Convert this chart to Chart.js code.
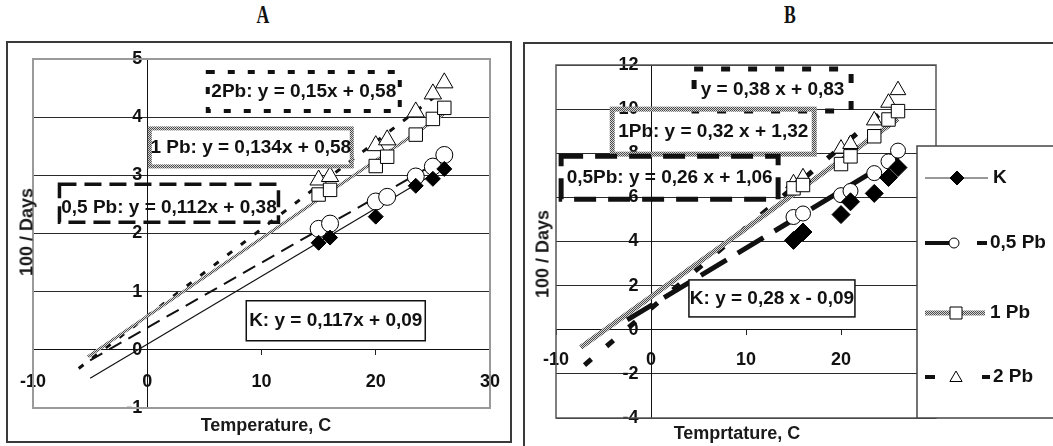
<!DOCTYPE html>
<html>
<head>
<meta charset="utf-8">
<script src="https://cdn.jsdelivr.net/npm/chart.js@4.4.1/dist/chart.umd.min.js"></script>
<style>
  body { margin: 0; width: 1053px; height: 446px; background: #fff; position: relative; overflow: hidden;
         font-family: "Liberation Sans", Arial, sans-serif; }
  .frame { position: absolute; border: 2px solid #3a3a3a; box-sizing: border-box; }
  #frameA { left: 6px; top: 41px; width: 506px; height: 402px; }
  #frameB { left: 523px; top: 42px; width: 560px; height: 430px; }
  canvas { position: absolute; top: 0; }
  #chartA { left: 0; }
  #chartB { left: 520px; }
  .panel { position: absolute; top: 2px; font-family: "Liberation Serif", serif; font-weight: bold;
           font-size: 26px; line-height: 26px; color: #111; transform: translateX(-50%) scaleX(0.68); }
  .axt { position: absolute; font-weight: bold; font-size: 18px; color: #1a1a1a; white-space: nowrap;
         transform: translate(-50%, -50%); }
  .axt.rot { transform: translate(-50%, -50%) rotate(-90deg); }
</style>
</head>
<body>
<div class="frame" id="frameA"></div>
<div class="frame" id="frameB"></div>
<div class="panel" style="left:263px">A</div>
<div class="panel" style="left:790px">B</div>
<canvas id="chartA" width="520" height="446"></canvas>
<canvas id="chartB" width="533" height="446"></canvas>
<div class="axt" style="left:266px; top:425px">Temperature, C</div>
<div class="axt rot" style="left:27px; top:232px">100 / Days</div>
<div class="axt" style="left:737px; top:433px">Temprtature, C</div>
<div class="axt rot" style="left:543px; top:254px">100 / Days</div>

<script>
// ---- data ----
const seriesNames = ['K', '0,5 Pb', '1 Pb', '2 Pb'];

// panel A
const tempA = [15, 16, 20, 21, 23.5, 25, 26];
const kTempA = [15, 16, 20, 23.5, 25, 26];
const kA = [1.84, 1.93, 2.29, 2.82, 2.94, 3.11];
const pb05A = [2.08, 2.17, 2.55, 2.63, 2.98, 3.15, 3.35];
const pb1A = [2.67, 2.75, 3.16, 3.32, 3.70, 3.97, 4.16];
const pb2A = [2.92, 2.98, 3.51, 3.61, 4.09, 4.40, 4.59];
// trend line ends
const kFitA = [{x: -5, y: -0.49}, {x: 26.3, y: 3.17}];
const pb05FitA = [{x: -5, y: -0.18}, {x: 26, y: 3.29}];
const pb1FitA = [{x: -5.2, y: -0.12}, {x: 26, y: 4.06}];
const pb2FitA = [{x: -6, y: -0.32}, {x: 25.5, y: 4.4}];
const eqA = ['2Pb: y = 0,15x + 0,58', '1 Pb: y = 0,134x + 0,58', '0,5 Pb: y = 0,112x + 0,38', 'K: y = 0,117x + 0,09'];

// panel B
const tempB = [15, 16, 20, 21, 23.5, 25, 26];
const kB = [4.05, 4.43, 5.22, 5.80, 6.18, 6.90, 7.35];
const pb05B = [5.11, 5.27, 6.10, 6.29, 7.10, 7.63, 8.12];
const pb1B = [6.41, 6.56, 7.51, 7.86, 8.77, 9.53, 9.91];
const pb2B = [6.64, 6.91, 8.21, 8.42, 9.49, 10.29, 10.86];
const pb05FitB = [{x: -2.5, y: 0.45}, {x: 26, y: 7.85}];
const pb1FitB = [{x: -7.4, y: -0.8}, {x: 26, y: 9.55}];
const pb2FitB = [{x: -7, y: -1.6}, {x: 25.5, y: 10.3}];
const eqB = ['y = 0,38 x + 0,83', '1Pb: y = 0,32 x + 1,32', '0,5Pb: y = 0,26 x + 1,06', 'K: y = 0,28 x - 0,09'];

const FONT = '"Liberation Sans", Arial, sans-serif';
Chart.defaults.font.family = FONT;
Chart.defaults.color = '#111';

// grey "textured" line like the old Excel pattern
function makeTexture() {
  const c = document.createElement('canvas');
  c.width = 2; c.height = 2;
  const g = c.getContext('2d');
  g.fillStyle = '#d8d8d8'; g.fillRect(0, 0, 2, 2);
  g.fillStyle = '#4a4a4a'; g.fillRect(0, 0, 1, 1); g.fillRect(1, 1, 1, 1);
  return c.getContext('2d').createPattern(c, 'repeat');
}
const texture = makeTexture();

function pts(xs, ys) {
  return ys.map((y, i) => ({x: xs[i], y}));
}

function markerSet(label, data, style, r, fill) {
  return {
    label, data, showLine: false,
    pointStyle: style, pointRadius: r, pointHoverRadius: r,
    pointBackgroundColor: fill, pointBorderColor: '#000', pointBorderWidth: 1
  };
}

function fitSet(data, color, width, dash) {
  return {
    data, showLine: true, pointRadius: 0, pointHoverRadius: 0,
    borderColor: color, borderWidth: width, borderDash: dash || [], fill: false
  };
}

function drawMarker(ctx, style, x, y, r, fill) {
  ctx.save();
  ctx.fillStyle = fill; ctx.strokeStyle = '#000'; ctx.lineWidth = 1; ctx.setLineDash([]);
  ctx.beginPath();
  if (style === 'rectRot') {
    ctx.moveTo(x, y - r); ctx.lineTo(x + r, y); ctx.lineTo(x, y + r); ctx.lineTo(x - r, y);
  } else if (style === 'circle') {
    ctx.arc(x, y, r, 0, Math.PI * 2);
  } else if (style === 'rect') {
    ctx.rect(x - r, y - r, 2 * r, 2 * r);
  } else {
    ctx.moveTo(x, y - r); ctx.lineTo(x + r * 0.87, y + r / 2); ctx.lineTo(x - r * 0.87, y + r / 2);
  }
  ctx.closePath(); ctx.fill(); ctx.stroke();
  ctx.restore();
}

// plot frame + equation boxes
function boxPlugin(id, frameColor, frameWidth, boxes) {
  return {
    id,
    beforeDatasetsDraw(chart) {
      const a = chart.chartArea, ctx = chart.ctx;
      ctx.save();
      ctx.strokeStyle = frameColor; ctx.lineWidth = frameWidth;
      ctx.strokeRect(a.left, a.top, a.right - a.left, a.bottom - a.top);
      ctx.restore();
    },
    afterDatasetsDraw(chart) {
      const ctx = chart.ctx;
      boxes.forEach(b => {
        const cx = chart.scales.x.getPixelForValue(b.x);
        const cy = chart.scales.y.getPixelForValue(b.y);
        const l = cx - b.w / 2, t = cy - b.h / 2;
        ctx.save();
        if (b.fill) { ctx.fillStyle = '#fff'; ctx.fillRect(l, t, b.w, b.h); }
        ctx.strokeStyle = b.color; ctx.lineWidth = b.lw; ctx.setLineDash(b.dash || []);
        ctx.strokeRect(l, t, b.w, b.h);
        ctx.setLineDash([]);
        ctx.fillStyle = '#111';
        ctx.font = 'bold 19px ' + FONT;
        ctx.textAlign = 'center'; ctx.textBaseline = 'middle';
        ctx.fillText(b.text, cx + (b.dx || 0), cy + (b.dy || 0));
        ctx.restore();
      });
    }
  };
}

// y labels sit left of the x = 0 axis; trailing space gives the gap
function axes(xmin, xmax, ymin, ymax, ystep, xpad, yGap) {
  const tickFont = {size: 18, weight: 'bold'};
  return {
    x: {
      type: 'linear', position: {y: 0}, min: xmin, max: xmax,
      ticks: {stepSize: 10, padding: xpad, font: tickFont, color: '#111'},
      grid: {drawOnChartArea: false, drawTicks: true, tickLength: 5, tickColor: '#222'},
      border: {color: '#111', width: 1}
    },
    y: {
      type: 'linear', position: {x: 0}, min: ymin, max: ymax,
      ticks: {stepSize: ystep, font: tickFont, color: '#111', callback: v => v + yGap},
      grid: {color: '#2a2a2a', lineWidth: 1, drawTicks: false},
      border: {color: '#111', width: 1}
    }
  };
}

const baseOpts = {
  responsive: false, animation: false,
  plugins: {legend: {display: false}, tooltip: {enabled: false}}
};

// ---- panel A ----
const boxesA = [
  {text: eqA[0], x: 13.7, y: 4.44, w: 192, h: 39, color: '#111', lw: 4, dash: [7, 13]},
  {text: eqA[1], x: 9.06, y: 3.48, w: 202, h: 38, color: texture, lw: 4},
  {text: eqA[2], x: 1.9, y: 2.52, w: 219, h: 38, color: '#111', lw: 3.5, dash: [17, 8], dy: 5},
  {text: eqA[3], x: 16.5, y: 0.5, w: 179, h: 40, color: '#111', lw: 1.5, fill: true}
];

new Chart(document.getElementById('chartA'), {
  type: 'scatter',
  data: {
    datasets: [
      markerSet(seriesNames[0], pts(kTempA, kA), 'rectRot', 7.5, '#000'),
      markerSet(seriesNames[1], pts(tempA, pb05A), 'circle', 8.5, '#fff'),
      markerSet(seriesNames[2], pts(tempA, pb1A), 'rect', 9.5, '#fff'),
      markerSet(seriesNames[3], pts(tempA, pb2A), 'triangle', 10, '#fff'),
      fitSet(kFitA, '#111', 1.2),
      fitSet(pb05FitA, '#111', 2, [14, 8]),
      fitSet(pb1FitA, texture, 3),
      fitSet(pb2FitA, '#111', 3, [6, 11])
    ]
  },
  options: Object.assign({}, baseOpts, {
    layout: {padding: {left: 33, right: 30, top: 59, bottom: 38}},
    scales: axes(-10, 30, -1, 5, 1, 16, ' ')
  }),
  plugins: [boxPlugin('eqA', '#9a9a9a', 2, boxesA)]
});

// ---- panel B ----
const boxesB = [
  {text: eqB[0], x: 12.8, y: 10.87, w: 157, h: 42, color: '#111', lw: 5, dash: [9, 18]},
  {text: eqB[1], x: 6.55, y: 8.98, w: 202, h: 45, color: texture, lw: 5},
  {text: eqB[2], x: 1.96, y: 6.89, w: 217, h: 43, color: '#111', lw: 5, dash: [22, 12]},
  {text: eqB[3], x: 12.73, y: 1.42, w: 166, h: 37, color: '#111', lw: 1.5, fill: true}
];

const legendPlugin = {
  id: 'legendB',
  afterDraw(chart) {
    const ctx = chart.ctx;
    const L = 397, T = 146, B = chart.chartArea.bottom;
    ctx.save();
    ctx.fillStyle = '#fff';
    ctx.fillRect(L, T, 200, B - T);
    ctx.strokeStyle = '#444'; ctx.lineWidth = 1.5;
    ctx.strokeRect(L, T, 200, B - T);
    ctx.font = 'bold 19px ' + FONT;
    ctx.textBaseline = 'middle'; ctx.textAlign = 'left';
    const rows = [178, 243, 313, 377];
    // K
    ctx.strokeStyle = '#333'; ctx.lineWidth = 1;
    ctx.beginPath(); ctx.moveTo(405, rows[0]); ctx.lineTo(468, rows[0]); ctx.stroke();
    drawMarker(ctx, 'rectRot', 437, rows[0], 7, '#000');
    // 0,5 Pb
    ctx.strokeStyle = '#111'; ctx.lineWidth = 4;
    ctx.beginPath(); ctx.moveTo(405, rows[1]); ctx.lineTo(430, rows[1]); ctx.stroke();
    ctx.beginPath(); ctx.moveTo(457, rows[1]); ctx.lineTo(467, rows[1]); ctx.stroke();
    drawMarker(ctx, 'circle', 434, rows[1], 5, '#fff');
    // 1 Pb
    ctx.strokeStyle = texture; ctx.lineWidth = 5;
    ctx.beginPath(); ctx.moveTo(405, rows[2]); ctx.lineTo(465, rows[2]); ctx.stroke();
    drawMarker(ctx, 'rect', 436, rows[2], 6, '#fff');
    // 2 Pb
    ctx.strokeStyle = '#111'; ctx.lineWidth = 4;
    ctx.beginPath(); ctx.moveTo(405, rows[3]); ctx.lineTo(415, rows[3]); ctx.stroke();
    ctx.beginPath(); ctx.moveTo(462, rows[3]); ctx.lineTo(470, rows[3]); ctx.stroke();
    drawMarker(ctx, 'triangle', 436, rows[3] + 1, 7, '#fff');
    ctx.fillStyle = '#111';
    ctx.fillText(seriesNames[0], 473, rows[0]);
    ctx.fillText(seriesNames[1], 470, rows[1]);
    ctx.fillText(seriesNames[2], 470, rows[2]);
    ctx.fillText(seriesNames[3], 473, rows[3]);
    ctx.restore();
  }
};

new Chart(document.getElementById('chartB'), {
  type: 'scatter',
  data: {
    datasets: [
      markerSet(seriesNames[0], pts(tempB, kB), 'rectRot', 9, '#000'),
      markerSet(seriesNames[1], pts(tempB, pb05B), 'circle', 7.5, '#fff'),
      markerSet(seriesNames[2], pts(tempB, pb1B), 'rect', 9.5, '#fff'),
      markerSet(seriesNames[3], pts(tempB, pb2B), 'triangle', 9, '#fff'),
      fitSet(pb05FitB, '#111', 5, [30, 13]),
      fitSet(pb1FitB, texture, 5),
      fitSet(pb2FitB, '#111', 5, [9, 20])
    ]
  },
  options: Object.assign({}, baseOpts, {
    layout: {padding: {left: 36, right: 117, top: 65, bottom: 28}},
    scales: axes(-10, 30, -4, 12, 2, 14, '\u2002\u2009')
  }),
  plugins: [boxPlugin('eqB', '#555', 1.5, boxesB), legendPlugin]
});
</script>
</body>
</html>
